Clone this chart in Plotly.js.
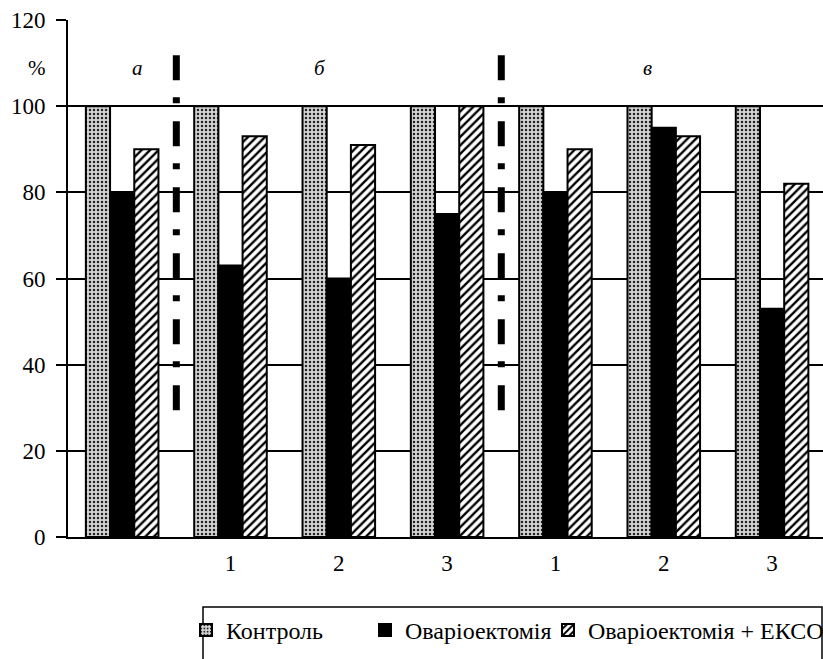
<!DOCTYPE html>
<html>
<head>
<meta charset="utf-8">
<script src="https://cdn.plot.ly/plotly-3.0.1.min.js"></script>
<style>html,body{margin:0;padding:0;background:#fff;}#chart{width:823px;height:659px;}</style>
</head>
<body>
<div id="chart"></div>
<script>
// ---- data ----
var groupIndex = [0, 1, 2, 3, 4, 5, 6];
var tickLabels = ['', '1', '2', '3', '1', '2', '3'];
var seriesNames = ['Контроль', 'Оваріоектомія', 'Оваріоектомія + ЕКСО'];
var control = [100, 100, 100, 100, 100, 100, 100];
var ovariectomy = [80, 63, 60, 75, 80, 95, 53];
var ovariectomyEkso = [90, 93, 91, 100, 90, 93, 82];
var dividerPositions = [0.5, 3.5];
var sectionLabels = ['а', 'б', 'в'];
var sectionLabelX = [0.14, 1.83, 4.85];
var yTicks = [0, 20, 40, 60, 80, 100, 120];

var FONT = 'Liberation Serif';
var outline = {color: '#000', width: 2};

var traces = [
  {type: 'bar', name: seriesNames[0], x: groupIndex, y: control, legend: 'legend',
   marker: {color: '#cfcfcf', line: outline,
     pattern: {shape: '.', fgcolor: '#222', bgcolor: '#d4d4d4', size: 4, solidity: 0.3}}},
  {type: 'bar', name: seriesNames[1], x: groupIndex, y: ovariectomy, legend: 'legend2',
   marker: {color: '#000', line: outline}},
  {type: 'bar', name: seriesNames[2], x: groupIndex, y: ovariectomyEkso, legend: 'legend3',
   marker: {color: '#fff', line: outline,
     pattern: {shape: '/', fgcolor: '#000', bgcolor: '#fff', size: 6, solidity: 0.4}}}
];

var shapes = dividerPositions.map(function (p) {
  return {type: 'line', xref: 'x', yref: 'y', x0: p, x1: p, y0: 111.8, y1: 28.8,
    line: {color: '#000', width: 7, dash: '25px,17px,6px,18px'}};
});
shapes.push({type: 'rect', xref: 'paper', yref: 'paper',
  x0: (203 - 68) / 755, x1: (822 - 68) / 755, y0: (537 - 662) / 517, y1: (537 - 607) / 517,
  line: {color: '#000', width: 1.5}, fillcolor: 'rgba(0,0,0,0)'});

var annotations = sectionLabels.map(function (t, i) {
  return {text: '<i>' + t + '</i>', x: sectionLabelX[i], y: 108.8, xref: 'x', yref: 'y', showarrow: false,
    xanchor: 'center', font: {family: FONT, size: 21, color: '#000'}};
});
annotations.push({text: '%', xref: 'paper', yref: 'y', x: -0.041, y: 108.8, showarrow: false,
  xanchor: 'center', font: {family: FONT, size: 21, color: '#000'}});

function legendAt(px) {
  return {orientation: 'h', xref: 'container', yref: 'container', x: px / 823, y: 1 - 608 / 659,
    xanchor: 'left', yanchor: 'top', bgcolor: 'rgba(0,0,0,0)', borderwidth: 0,
    font: {family: FONT, size: 24, color: '#000'}, itemwidth: 30};
}

var layout = {
  width: 823, height: 659,
  margin: {l: 68, r: 0, t: 20, b: 122},
  paper_bgcolor: '#fff', plot_bgcolor: '#fff',
  font: {family: FONT, size: 23, color: '#000'},
  barmode: 'group', bargap: 0.33, bargroupgap: 0,
  showlegend: true,
  legend: legendAt(186),
  legend2: legendAt(365),
  legend3: legendAt(548),
  xaxis: {range: [-0.5, 6.47], tickmode: 'array', tickvals: groupIndex, ticktext: tickLabels,
    showline: true, linecolor: '#000', linewidth: 2, ticks: '', showgrid: false, zeroline: false,
    ticklabelstandoff: 4, tickfont: {family: FONT, size: 23, color: '#000'}, fixedrange: true},
  yaxis: {range: [0, 120], tickmode: 'array', tickvals: yTicks,
    showline: true, linecolor: '#000', linewidth: 2, ticks: 'outside', ticklen: 10, tickwidth: 2,
    tickcolor: '#000', showgrid: true, gridcolor: '#000', gridwidth: 2, zeroline: false,
    ticklabelstandoff: 6, tickfont: {family: FONT, size: 23, color: '#000'}, fixedrange: true},
  shapes: shapes,
  annotations: annotations
};

Plotly.newPlot('chart', traces, layout, {displayModeBar: false, staticPlot: true});
</script>
</body>
</html>
